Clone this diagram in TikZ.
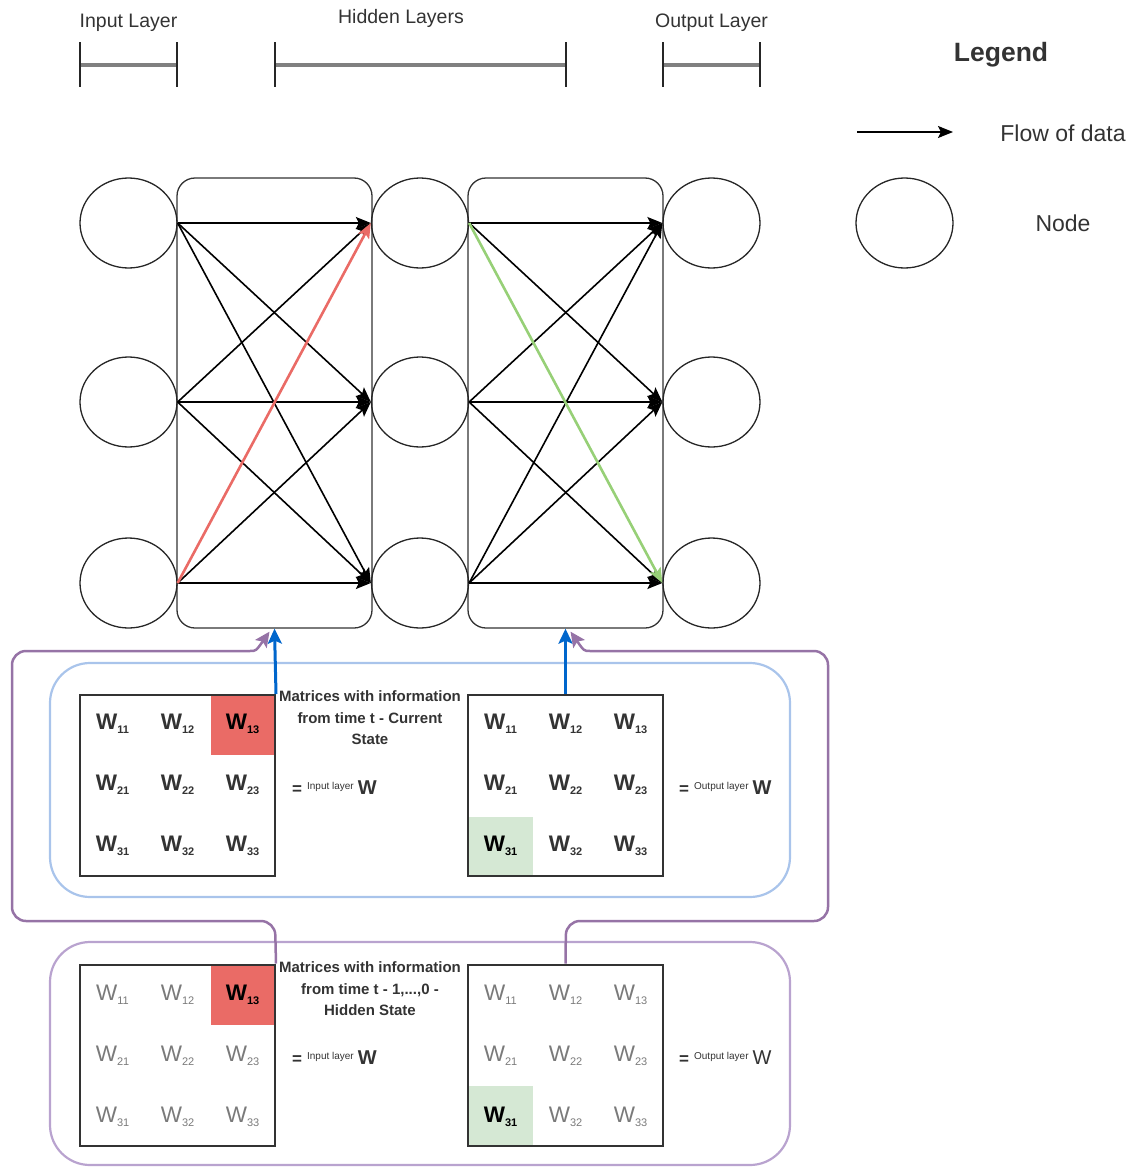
\documentclass[tikz,border=0pt]{standalone}
\usepackage{fontspec}
\setmainfont{Liberation Sans}
\usetikzlibrary{shapes.geometric,arrows.meta}
\definecolor{linkred}{HTML}{EA6B66}
\definecolor{linkgreen}{HTML}{97D077}
\definecolor{cellgreen}{HTML}{D5E8D4}
\definecolor{feedblue}{HTML}{0066CC}
\definecolor{boxblue}{HTML}{A9C4EB}
\definecolor{boxpurple}{HTML}{B9A3CF}
\definecolor{feedpurple}{HTML}{9673A6}
\definecolor{ink}{HTML}{333333}
\definecolor{faint}{HTML}{7A7A7A}
\definecolor{bargray}{HTML}{808080}

% weight label: W with a two-digit index
\newcommand{\wlab}[1]{{\fontsize{22.5}{25}\selectfont W}\raisebox{-4pt}{\fontsize{11}{12}\selectfont #1}}
% matrix name: = (layer) W
\newcommand{\eqlab}[2]{{\fontsize{17}{19}\selectfont\bfseries =}\hspace{5pt}\raisebox{5pt}{\fontsize{10}{11}\selectfont #1}\hspace{-1.5pt}{\fontsize{20}{22}\selectfont #2 W}}

\begin{document}
\begin{tikzpicture}[x=1pt,y=-1pt,
  neuron/.style={ellipse,draw=black!85,line width=1.3pt,minimum width=97pt,minimum height=90pt,inner sep=0pt},
  layerbox/.style={draw=black!80,line width=1.3pt,rounded corners=18pt,inner sep=0pt,minimum width=195pt,minimum height=450pt},
  flow/.style={line width=1.6pt,-{Stealth[length=15pt,width=12pt,inset=3pt]}},
  marked/.style={line width=2.6pt},
  matbox/.style={draw=ink,line width=2pt,inner sep=0pt,minimum width=195pt,minimum height=181pt},
  feedup/.style={feedblue,line width=3pt,-{Stealth[length=15pt,width=14pt,inset=3pt]}},
  feedback/.style={feedpurple,line width=2.5pt,rounded corners=14pt,-{Stealth[length=15pt,width=14pt,inset=3pt]}},
  toplabel/.style={text=ink,font=\fontsize{19.5}{22}\selectfont},
  legtext/.style={text=ink,font=\fontsize{23}{27}\selectfont},
  caption/.style={text=ink,align=center,inner sep=0pt,font=\bfseries\fontsize{15}{21.5}\selectfont},
  tick/.style={line width=1.5pt,black!85},
  bar/.style={line width=3.2pt,bargray},
  wnow/.style={text=ink,font=\bfseries,inner sep=0pt},
  wpast/.style={text=faint,inner sep=0pt},
  whit/.style={text=black,font=\bfseries,inner sep=0pt}
]
\useasboundingbox (0,0) rectangle (1132,1167);

% ---- layer spans along the top
\node[toplabel] (tin) at (128.5,23) {Input Layer};
\node[toplabel] (thid) at (401,18) {Hidden Layers};
\node[toplabel] (tout) at (711.5,23) {Output Layer};
\draw[bar] (80,65) -- (177,65);
\draw[bar] (275,65) -- (566,65);
\draw[bar] (663,65) -- (760,65);
\foreach \x in {80,177,275,566,663,760} \draw[tick] (\x,42) -- (\x,87);

% ---- legend
\node[font=\bfseries\fontsize{26.5}{30}\selectfont,text=ink] (leg) at (1001,55) {Legend};
\coordinate (la) at (857,132);
\coordinate (lb) at (953,132);
\draw[flow] (la) -- (lb);
\node[legtext] (lflow) at (1063,133) {Flow of data};
\node[neuron] (lnode) at (904.5,223) {};
\node[legtext] (lnodet) at (1063,223) {Node};

% ---- layer frames and neurons
\node[layerbox] (b1) at (274.5,403) {};
\node[layerbox] (b2) at (565.5,403) {};
\foreach \r/\y in {1/223,2/402,3/583}{
  \node[neuron] (i\r) at (128.5,\y) {};
  \node[neuron] (h\r) at (420,\y) {};
  \node[neuron] (o\r) at (711.5,\y) {};
}

% ---- connections input -> hidden
\foreach \s/\t in {1/1,1/2,1/3,2/1,2/2,2/3,3/2,3/3}
  \draw[flow] (i\s.east) -- (h\t.west);
\draw[flow,marked,linkred] (i3.east) -- (h1.west);

% ---- connections hidden -> output
\foreach \s/\t in {1/1,1/2,2/1,2/2,2/3,3/1,3/2,3/3}
  \draw[flow] (h\s.east) -- (o\t.west);
\draw[flow,marked,linkgreen] (h1.east) -- (o3.west);

% ---- state containers
\draw[boxblue,line width=2.2pt,rounded corners=40pt] (50,663) rectangle (790,897);
\draw[boxpurple,line width=2.2pt,rounded corners=40pt] (50,942) rectangle (790,1165);

% ---- highlighted cells
\fill[linkred] (211,695) rectangle (275,755);
\fill[cellgreen] (468,817) rectangle (533,876);
\fill[linkred] (211,965) rectangle (275,1025);
\fill[cellgreen] (468,1086) rectangle (533,1145);

% ---- weight matrices
\node[matbox] (m1) at (177.5,785.5) {};
\node[matbox] (m2) at (565.5,785.5) {};
\node[matbox] (m3) at (177.5,1055) {};
\node[matbox] (m4) at (565.5,1055) {};

\foreach \r in {1,2,3}{
  \foreach \c in {1,2,3}{
    \pgfmathsetmacro{\cx}{80+65*\c-32.5}
    \pgfmathsetmacro{\dx}{468+65*\c-32.5}
    \pgfmathsetmacro{\uy}{695+61*\r-32}
    \pgfmathsetmacro{\ly}{965+61*\r-31}
    \ifnum\r\c=13
      \node[whit] (ua\r\c) at (\cx,\uy) {\wlab{\r\c}};
      \node[whit] (la\r\c) at (\cx,\ly) {\wlab{\r\c}};
    \else
      \node[wnow] (ua\r\c) at (\cx,\uy) {\wlab{\r\c}};
      \node[wpast] (la\r\c) at (\cx,\ly) {\wlab{\r\c}};
    \fi
    \ifnum\r\c=31
      \node[whit] (ub\r\c) at (\dx,\uy) {\wlab{\r\c}};
      \node[whit] (lb\r\c) at (\dx,\ly) {\wlab{\r\c}};
    \else
      \node[wnow] (ub\r\c) at (\dx,\uy) {\wlab{\r\c}};
      \node[wpast] (lb\r\c) at (\dx,\ly) {\wlab{\r\c}};
    \fi
  }
}

% ---- matrix names
\node[anchor=west,text=ink,inner sep=0pt] (e1) at (292,788) {\eqlab{Input layer}{\bfseries}};
\node[anchor=west,text=ink,inner sep=0pt] (e2) at (679,788) {\eqlab{Output layer}{\bfseries}};
\node[anchor=west,text=ink,inner sep=0pt] (e3) at (292,1058) {\eqlab{Input layer}{\bfseries}};
\node[anchor=west,text=ink,inner sep=0pt] (e4) at (679,1058) {\eqlab{Output layer}{}};

% ---- feed of the current state
\draw[feedup] (m1.north east) -- (b1.south);
\draw[feedup] (m2.north) -- (b2.south);

% ---- feed of the hidden state
\draw[feedback] (m3.north east) -- (275,921) -- (12,921) -- (12,651) -- (236,651)
  .. controls (256,651) .. ([xshift=-5pt,yshift=-3pt]b1.south);
\draw[feedback] (m4.north) -- (566,921) -- (828,921) -- (828,651) -- (604,651)
  .. controls (584,651) .. ([xshift=5pt,yshift=-3pt]b2.south);

% ---- captions
\node[caption] (c1) at (370,718) {Matrices with information\\from time t - Current\\State};
\node[caption] (c2) at (370,989) {Matrices with information\\from time t - 1,...,0 -\\Hidden State};
\end{tikzpicture}
\end{document}
